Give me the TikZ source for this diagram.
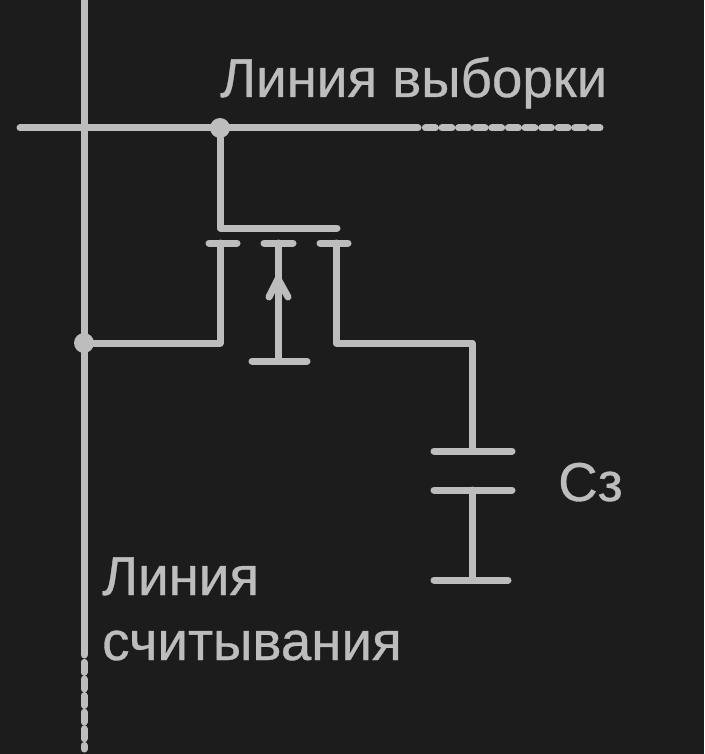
\documentclass[tikz,border=0pt]{standalone}
\usepackage{fontspec}
\setmainfont[FakeBold=0.6]{Liberation Sans}
\usetikzlibrary{positioning,calc}
\definecolor{panelgray}{HTML}{1C1C1C}
\definecolor{wiregray}{HTML}{BDBDBD}

\begin{document}
\begin{tikzpicture}[x=1pt,y=-1pt,
  wire/.style={draw=wiregray, line width=7pt, line cap=round, line join=round},
  wirenotched/.style={draw=wiregray, line width=7pt, line cap=round, dash pattern=on 9.9pt off 6.7pt},
  junction/.style={circle, fill=wiregray, inner sep=0pt, minimum size=20pt},
  caption/.style={text=wiregray, font=\fontsize{54.7}{65}\selectfont, inner sep=0pt, anchor=base west, align=left}]

\useasboundingbox [fill=panelgray] (0,0) rectangle (704,754);

% TERMINALS

\coordinate (selectwest) at (20,128);
\coordinate (selectmid) at (418,128);
\coordinate (selectnotch) at (425.4,128);
\coordinate (selecteast) at (600,128);
\coordinate (readnorth) at (84,0);
\coordinate (readmid) at (84,655);
\coordinate (readnotch) at (84,662.4);
\coordinate (readsouth) at (84,749);

\node [junction] (selectdot) at (220,128) {};
\node [junction] (readdot) at (84,343) {};

% TRANSISTOR

\coordinate (gatecorner) at (220,228);
\coordinate (gateend) at (337,228);
\coordinate (sourcewest) at (209,243);
\coordinate (sourceeast) at (237,243);
\coordinate (sourcetop) at (220,243);
\coordinate (sourcecorner) at (220,343);
\coordinate (bulkwest) at (264,243);
\coordinate (bulkeast) at (293,243);
\coordinate (bulktop) at (278,243);
\coordinate (bulkbottom) at (278,361);
\coordinate (basewest) at (252,361);
\coordinate (baseeast) at (307,361);
\coordinate (drainwest) at (320,243);
\coordinate (draineast) at (348,243);
\coordinate (draintop) at (336,243);
\coordinate (draincorner) at (336,343);
\coordinate (arrowtip) at (278,279);
\coordinate (arrowwest) at (269,297);
\coordinate (arroweast) at (288,297);

% CAPACITOR

\coordinate (capcorner) at (472,343);
\coordinate (platea) at (472,451);
\coordinate (plateb) at (472,490);
\coordinate (platec) at (472,580);
\coordinate (plateawest) at (434,451);
\coordinate (plateaeast) at (512,451);
\coordinate (platebwest) at (434,490);
\coordinate (platebeast) at (512,490);
\coordinate (platecwest) at (434,580);
\coordinate (plateceast) at (508,580);

% WIRES

\draw [wire] (selectwest) -- (selectmid);
\draw [wirenotched] (selectnotch) -- (selecteast);
\draw [wire] (readnorth) -- (readmid);
\draw [wirenotched] (readnotch) -- (readsouth);
\draw [wire] (selectdot) -- (gatecorner) -- (gateend);
\draw [wire] (readdot) -- (sourcecorner) -- (sourcetop);
\draw [wire] (sourcewest) -- (sourceeast);
\draw [wire] (bulkwest) -- (bulkeast);
\draw [wire] (bulktop) -- (bulkbottom);
\draw [wire] (basewest) -- (baseeast);
\draw [wire] (arrowwest) -- (arrowtip) -- (arroweast);
\draw [wire] (drainwest) -- (draineast);
\draw [wire] (draintop) -- (draincorner) -- (capcorner) -- (platea);
\draw [wire] (plateawest) -- (plateaeast);
\draw [wire] (platebwest) -- (platebeast);
\draw [wire] (plateb) -- (platec);
\draw [wire] (platecwest) -- (plateceast);

% LABELS

\node [caption] (selectlabel) at (220,97) {Линия выборки};
\node [caption] (readlabela) at (102,595) {Линия};
\node [caption] (readlabelb) at (102,660) {считывания};
\node [caption] (caplabel) at (558,501) {Сз};

\end{tikzpicture}
\end{document}
